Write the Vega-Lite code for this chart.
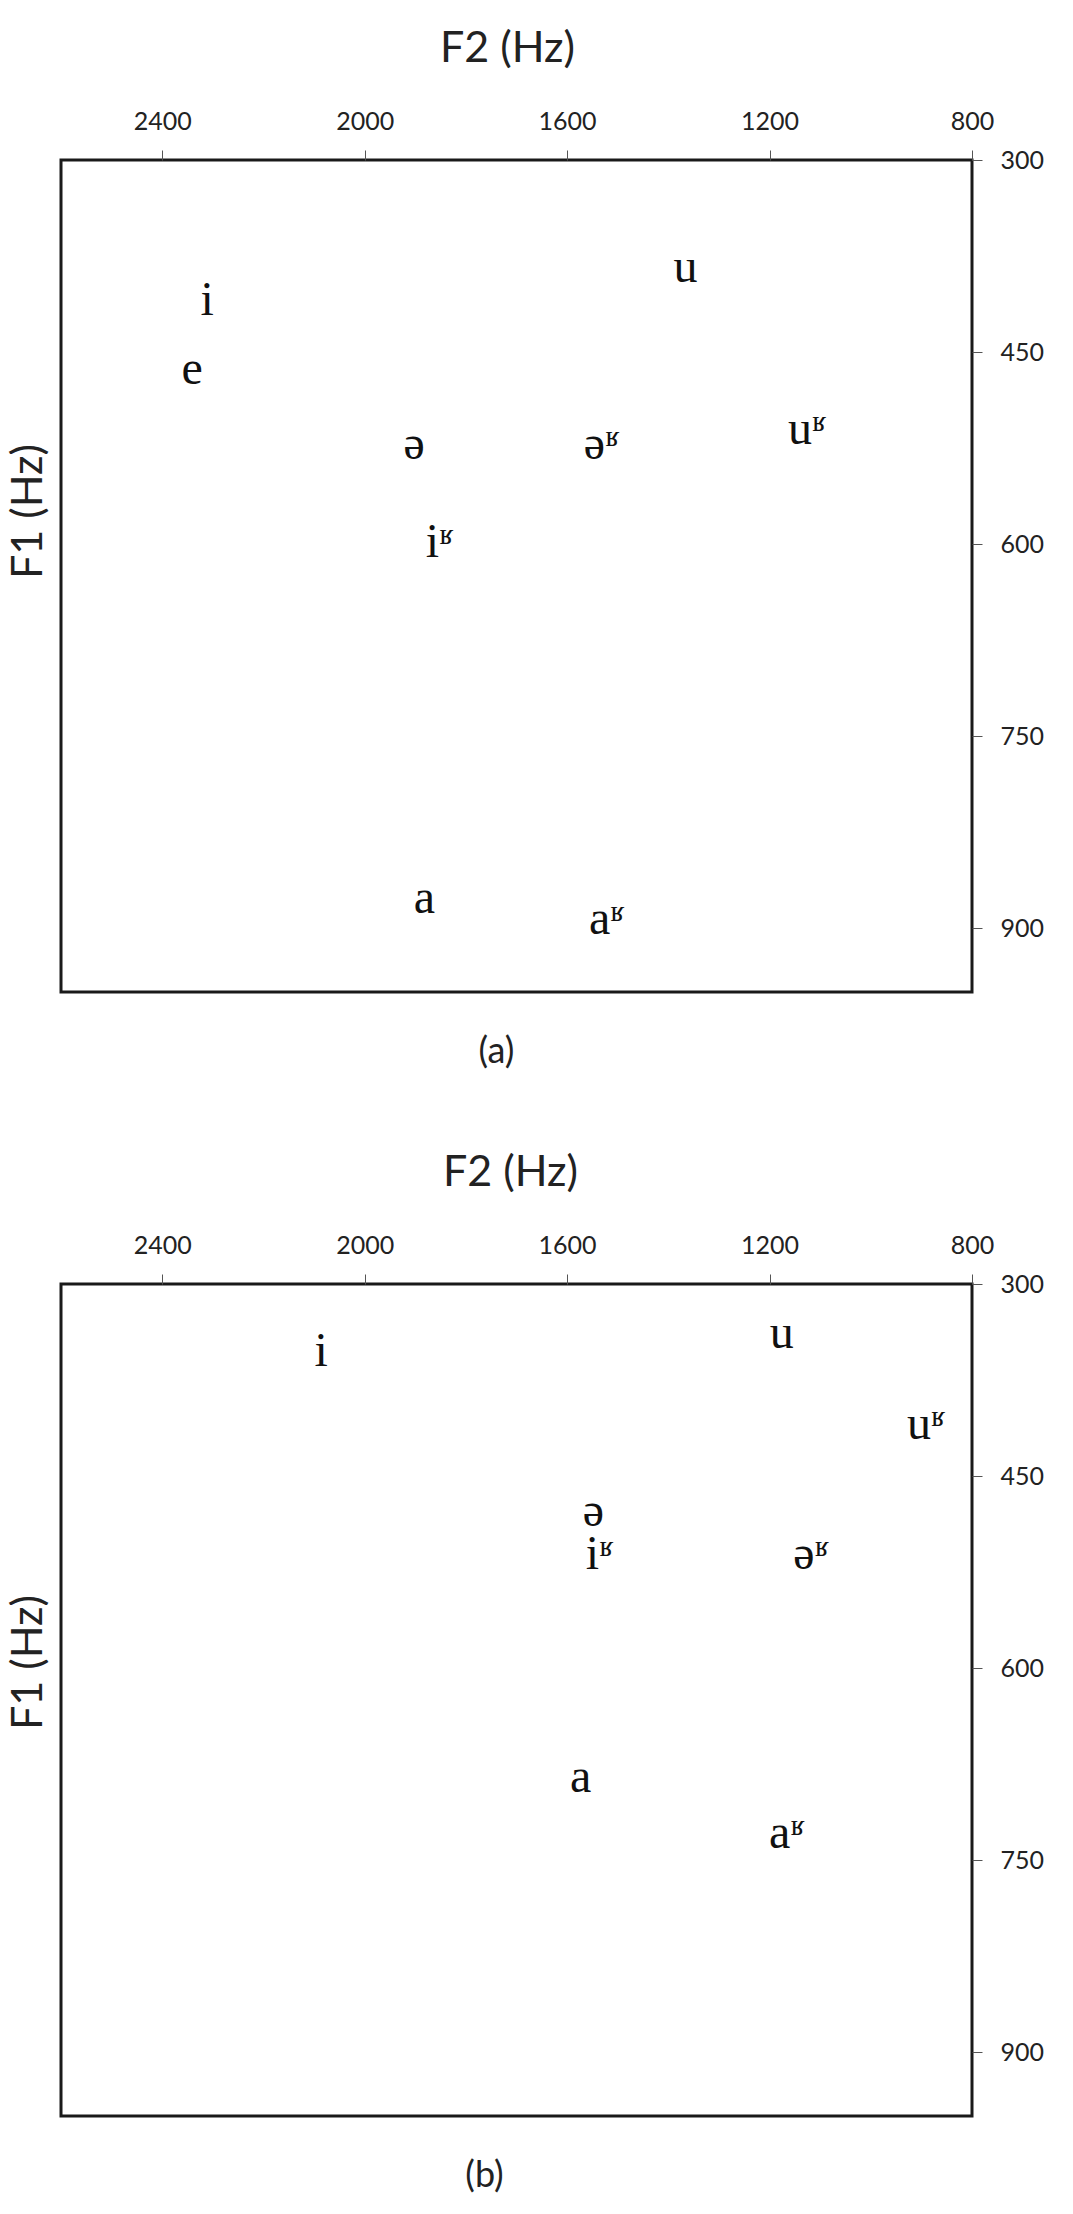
{
  "$schema": "https://vega.github.io/schema/vega-lite/v6.json",
  "background": "white",
  "padding": {"left": 5, "top": 25, "right": 5, "bottom": 5},
  "datasets": {
    "panel_a": [
      {"vowel": "i", "F2": 2311, "F1": 410},
      {"vowel": "e", "F2": 2341, "F1": 464},
      {"vowel": "u", "F2": 1366, "F1": 384},
      {"vowel": "ə", "F2": 1902, "F1": 523},
      {"vowel": "əʶ", "F2": 1532, "F1": 523},
      {"vowel": "uʶ", "F2": 1126, "F1": 511},
      {"vowel": "iʶ", "F2": 1852, "F1": 599},
      {"vowel": "a", "F2": 1882, "F1": 877},
      {"vowel": "aʶ", "F2": 1522, "F1": 894}
    ],
    "panel_b": [
      {"vowel": "i", "F2": 2086, "F1": 353},
      {"vowel": "u", "F2": 1176, "F1": 339},
      {"vowel": "uʶ", "F2": 891, "F1": 410},
      {"vowel": "ə", "F2": 1548, "F1": 478},
      {"vowel": "iʶ", "F2": 1536, "F1": 512},
      {"vowel": "əʶ", "F2": 1118, "F1": 512},
      {"vowel": "a", "F2": 1573, "F1": 686},
      {"vowel": "aʶ", "F2": 1166, "F1": 730}
    ]
  },
  "spacing": 77,
  "vconcat": [
    {
      "data": {"name": "panel_a"},
      "width": 911,
      "height": 832,
      "title": {"text": "(a)", "orient": "bottom", "baseline": "top", "offset": 43, "dx": -20},
      "mark": {"type": "text", "font": "Liberation Serif", "fontSize": 48, "color": "#111", "align": "center", "baseline": "middle"},
      "encoding": {
        "x": {
          "field": "F2", "type": "quantitative",
          "scale": {"domain": [2600, 800], "nice": false, "zero": false},
          "axis": {"orient": "top", "title": "F2 (Hz)", "values": [2400, 2000, 1600, 1200, 800], "format": "d", "labelPadding": 16, "labelFlush": false,
                   "titleX": 446, "titleY": -99, "titleAlign": "center", "titleBaseline": "alphabetic"}
        },
        "y": {
          "field": "F1", "type": "quantitative",
          "scale": {"domain": [300, 950], "reverse": true, "nice": false, "zero": false},
          "axis": {"orient": "right", "title": "F1 (Hz)", "values": [300, 450, 600, 750, 900], "format": "d", "labelPadding": 18,
                   "titleAngle": 270, "titleX": -944, "titleY": 351, "titleAlign": "center", "titleBaseline": "middle"}
        },
        "text": {"field": "vowel"}
      }
    },
    {
      "data": {"name": "panel_b"},
      "width": 911,
      "height": 832,
      "title": {"text": "(b)", "orient": "bottom", "baseline": "top", "offset": 43, "dx": -32},
      "mark": {"type": "text", "font": "Liberation Serif", "fontSize": 48, "color": "#111", "align": "center", "baseline": "middle"},
      "encoding": {
        "x": {
          "field": "F2", "type": "quantitative",
          "scale": {"domain": [2600, 800], "nice": false, "zero": false},
          "axis": {"orient": "top", "title": "F2 (Hz)", "values": [2400, 2000, 1600, 1200, 800], "format": "d", "labelPadding": 16, "labelFlush": false,
                   "titleX": 449, "titleY": -99, "titleAlign": "center", "titleBaseline": "alphabetic"}
        },
        "y": {
          "field": "F1", "type": "quantitative",
          "scale": {"domain": [300, 950], "reverse": true, "nice": false, "zero": false},
          "axis": {"orient": "right", "title": "F1 (Hz)", "values": [300, 450, 600, 750, 900], "format": "d", "labelPadding": 18,
                   "titleAngle": 270, "titleX": -944, "titleY": 378, "titleAlign": "center", "titleBaseline": "middle"}
        },
        "text": {"field": "vowel"}
      }
    }
  ],
  "config": {
    "view": {"stroke": "#1a1a1a", "strokeWidth": 3},
    "axis": {
      "grid": false,
      "domain": false,
      "ticks": true,
      "tickSize": 10,
      "tickWidth": 1,
      "tickColor": "#555",
      "labelFont": "Lato",
      "labelFontSize": 25,
      "labelColor": "#222",
      "titleFont": "Lato",
      "titleFontSize": 43,
      "titleFontWeight": "normal",
      "titleColor": "#222"
    },
    "title": {"font": "Lato", "fontSize": 36, "fontWeight": "normal", "color": "#222", "anchor": "middle"}
  }
}
